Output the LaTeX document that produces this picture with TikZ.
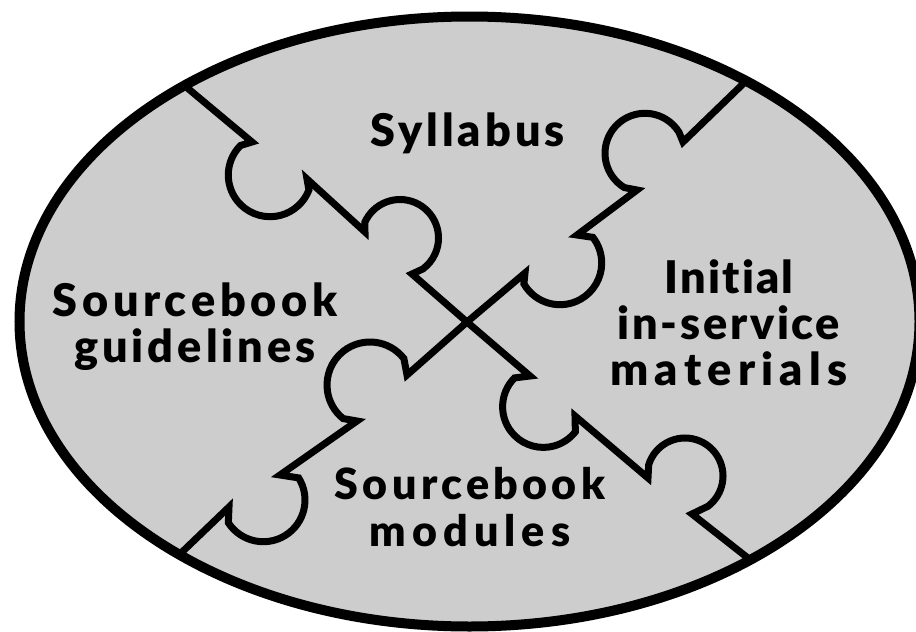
\documentclass[tikz,border=0pt]{standalone}
\usepackage{fontspec}
\setmainfont{Lato}[UprightFont=* Black,LetterSpace=7,Ligatures=NoCommon]
\newcommand{\arcseg}[4]{-- ([shift={#1}]#3:#2) arc[start angle=#3,end angle=#4,radius=#2]}
\newcommand{\spc}[1]{\addfontfeature{LetterSpace=#1}}
\definecolor{jigsaw}{HTML}{CDCDCD}
\tikzset{
  oval/.style={draw=black,line width=10pt,fill=jigsaw},
  seam/.style={draw=black,line width=7pt,line join=miter,miter limit=20},
  lab/.style={align=center,inner sep=0pt,text=black,font=\fontsize{45}{46}\selectfont},
  labsmall/.style={lab,font=\fontsize{43}{47}\selectfont}
}
\begin{document}
\begin{tikzpicture}[x=1pt,y=-1pt]
\useasboundingbox (0,0) rectangle (916,632);
\fill[white] (0,0) rectangle (916,632);
\clip (0,0) rectangle (916,632);
\path[oval] (469.5,321.5) ellipse[x radius=450,y radius=305];
\coordinate (mid) at (467,322);
\coordinate (tl) at (185,86);
\coordinate (tr) at (744,83);
\coordinate (bl) at (180,554);
\coordinate (br) at (753,562);
\path[seam] (tl) -- (252,142) \arcseg{(270,175)}{41.7}{225}{21} -- (307,179) -- (365,232)
  \arcseg{(400,238)}{38.5}{204}{413.6} -- (412,274) -- (mid);
\path[seam] (mid) -- (525,273) \arcseg{(560,263)}{41.7}{150}{-38} -- (577,235) -- (637,190)
  \arcseg{(645,153.3)}{40}{121}{328} -- (683,142) -- (tr);
\path[seam] (mid) -- (407,375) \arcseg{(370,385)}{43}{322}{128.7} -- (357,421) -- (280,475)
  \arcseg{(263.3,500)}{41.7}{-32}{147} -- (229,507) -- (bl);
\path[seam] (mid) -- (530,376) \arcseg{(543.3,406.7)}{40.7}{225}{38} -- (575,416) -- (648,478)
  \arcseg{(685,476)}{38}{197}{412.7} -- (692,514) -- (br);
\node[lab] (syl) at (467.5,133) {\spc{9}Syllabus};
\node[lab] (guide) at (195,326.5) {\spc{10.5}Sourcebook\\\spc{9}guidelines};
\node[lab] (init) at (729,323) {\spc{5}Initial\\\spc{6}in-service\\\spc{14}materials};
\node[labsmall] (mods) at (470,507) {\spc{10}Sourcebook\\\spc{14}modules};
\end{tikzpicture}
\end{document}
